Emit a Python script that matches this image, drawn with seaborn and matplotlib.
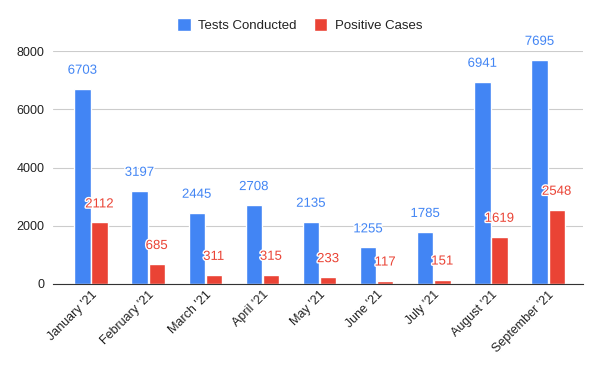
import pandas as pd
import matplotlib.pyplot as plt
import matplotlib.patheffects as pe
import seaborn as sns

months = ["January '21", "February '21", "March '21", "April '21", "May '21",
          "June '21", "July '21", "August '21", "September '21"]
tests = [6703, 3197, 2445, 2708, 2135, 1255, 1785, 6941, 7695]
positives = [2112, 685, 311, 315, 233, 117, 151, 1619, 2548]
series = ["Tests Conducted", "Positive Cases"]
colors = ["#4285F4", "#EA4335"]

df = pd.DataFrame({
    "Month": months * 2,
    "Value": tests + positives,
    "Series": [series[0]] * len(months) + [series[1]] * len(months),
})

sns.set_style("white")
plt.rcParams['font.family'] = ['Liberation Sans', 'DejaVu Sans']

fig = plt.figure(figsize=(6, 3.71), dpi=100)
ax = fig.add_axes([53 / 600, 87 / 371, 530 / 600, 233 / 371])

sns.barplot(data=df, x="Month", y="Value", hue="Series", palette=colors,
            width=0.6, gap=0.05, saturation=1, ax=ax)

# value labels above each bar
for container, col in zip(ax.containers, colors):
    for bar in container:
        h = bar.get_height()
        ax.annotate(f"{int(h)}", (bar.get_x() + bar.get_width() / 2, h),
                    xytext=(0, 13), textcoords="offset points",
                    ha="center", va="center", fontsize=9.5, color=col,
                    path_effects=[pe.withStroke(linewidth=2, foreground="white")])

ax.set_ylim(0, 8000)
ax.set_yticks([0, 2000, 4000, 6000, 8000])
ax.set_xlim(-0.665, 8.61)
ax.yaxis.grid(True, color="#cccccc", linewidth=0.8)
ax.set_axisbelow(True)
for s in ["top", "right", "left"]:
    ax.spines[s].set_visible(False)
ax.spines["bottom"].set_color("#333333")
ax.tick_params(axis="both", length=0, labelsize=9, labelcolor="#222222")
ax.tick_params(axis="y", pad=6)
plt.setp(ax.get_xticklabels(), rotation=45, ha="right", rotation_mode="anchor")
ax.set_xlabel("")
ax.set_ylabel("")

handles, labels = ax.get_legend_handles_labels()
ax.get_legend().remove()
fig.legend(handles, labels, loc="center", bbox_to_anchor=(0.5, 1 - 25 / 371),
           ncol=2, frameon=False, fontsize=9.5, handlelength=1.0,
           handleheight=1.2, columnspacing=1.3, handletextpad=0.6,
           labelcolor="#222222")

plt.savefig("out.png", dpi=100)
plt.close()
